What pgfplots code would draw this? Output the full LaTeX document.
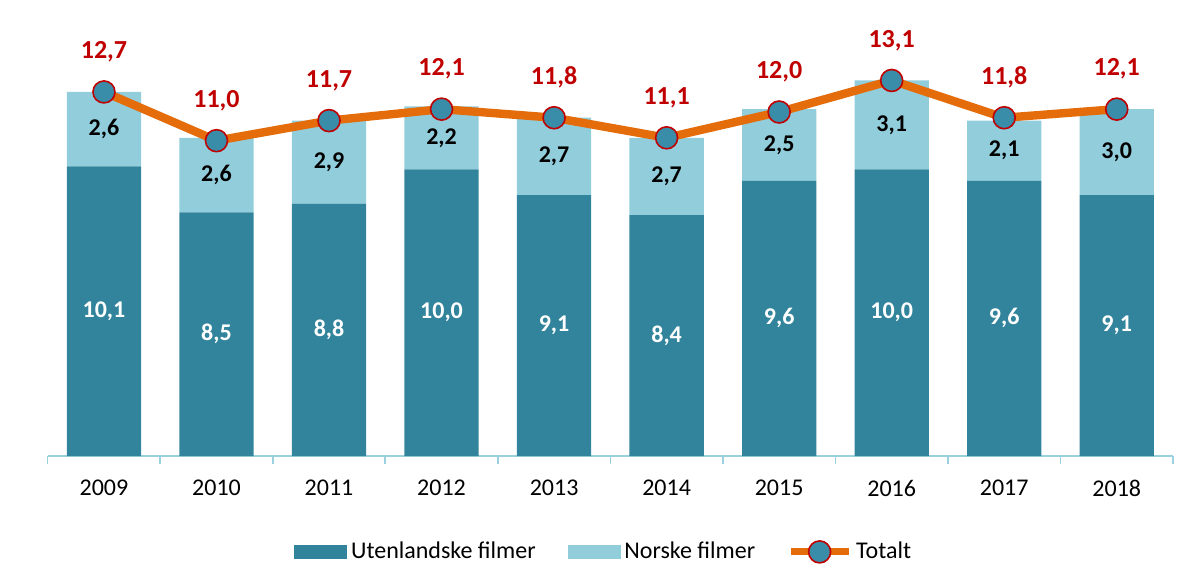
\documentclass[border=0pt]{standalone}
\usepackage{fontspec}
\setmainfont{Carlito}
\usepackage{pgfplots}
\pgfplotsset{compat=1.18}
\definecolor{darkteal}{HTML}{31849B}
\definecolor{lightteal}{HTML}{92CDDC}
\definecolor{lineorange}{HTML}{E46C0A}
\definecolor{labelred}{HTML}{C00000}
\definecolor{axisblue}{HTML}{9BD0DE}
\definecolor{markteal}{HTML}{3A8DA8}
\begin{document}
\begin{tikzpicture}
\useasboundingbox (0,0) rectangle (590pt,292.5pt);
\pgfplotsset{
  common/.style={
    at={(23.85pt,64.5pt)}, anchor=south west,
    scale only axis, width=562.65pt, height=215pt,
    xmin=-0.5, xmax=9.5, ymin=0, ymax=15, clip=false,
  }
}
\begin{axis}[common,
  ybar stacked, bar width=0.66,
  axis y line=none, axis x line*=bottom,
  axis line style={axisblue, line width=0.8pt},
  xtick={0,...,9},
  xticklabels={2009,2010,2011,2012,2013,2014,2015,2016,2017,2018},
  major tick length=0pt,
  minor xtick={-0.5,0.5,...,9.5},
  minor tick length=4pt,
  tick align=outside,
  minor tick style={axisblue, line width=0.8pt},
  xticklabel style={font=\fontsize{12}{14}\selectfont, anchor=center, yshift=-16pt},
  visualization depends on={rawy \as \rawy},
  nodes near coords={\pgfmathprintnumber[fixed,fixed zerofill,precision=1,use comma,assume math mode=true]{\rawy}},
  every node near coord/.append style={anchor=center, font=\bfseries\fontsize{12}{14}\selectfont},
]
\addplot[fill=darkteal, draw=none, every node near coord/.append style={text=white}]
  coordinates {(0,10.1)(1,8.5)(2,8.8)(3,10.0)(4,9.1)(5,8.4)(6,9.6)(7,10.0)(8,9.6)(9,9.1)};
\addplot[fill=lightteal, draw=none, every node near coord/.append style={text=black}]
  coordinates {(0,2.6)(1,2.6)(2,2.9)(3,2.2)(4,2.7)(5,2.7)(6,2.5)(7,3.1)(8,2.1)(9,3.0)};
\end{axis}
\begin{axis}[common,
  axis lines=none,
  legend columns=3,
  legend style={at={(0.495,-0.223)}, anchor=center, draw=none, fill=none,
    font=\fontsize{12}{14}\selectfont,
    /tikz/every even column/.append style={column sep=14pt}},
]
\addlegendimage{legend image code/.code={\fill[darkteal] (0pt,-3.25pt) rectangle (26pt,3.25pt);}}
\addlegendentry{Utenlandske filmer}
\addlegendimage{legend image code/.code={\fill[lightteal] (0pt,-3.25pt) rectangle (26pt,3.25pt);}}
\addlegendentry{Norske filmer}
\addplot[lineorange, line width=4.2pt, mark=*, mark size=5.5pt,
  mark options={fill=markteal, draw=labelred, line width=0.8pt},
  legend image code/.code={\draw[line width=3.5pt, mark repeat=2,mark phase=2] plot coordinates {(0pt,0pt) (14.5pt,0pt) (29pt,0pt)};},
  point meta=y,
  nodes near coords={\pgfmathprintnumber[fixed,fixed zerofill,precision=1,use comma,assume math mode=true]{\pgfplotspointmeta}},
  every node near coord/.append style={text=labelred, anchor=center, yshift=20pt, font=\bfseries\fontsize{13}{15}\selectfont}]
  coordinates {(0,12.7)(1,11.0)(2,11.7)(3,12.1)(4,11.8)(5,11.1)(6,12.0)(7,13.1)(8,11.8)(9,12.1)};
\addlegendentry{Totalt}
\end{axis}
\end{tikzpicture}
\end{document}
